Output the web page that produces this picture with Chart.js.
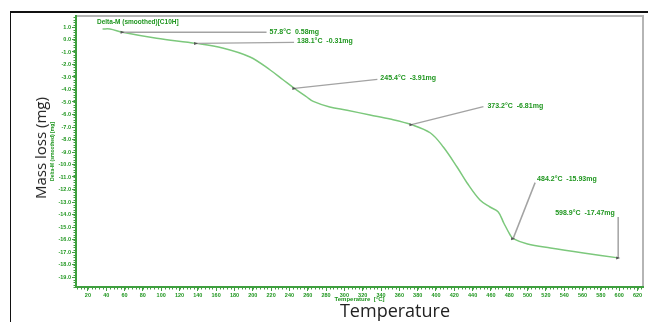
<!DOCTYPE html>
<html>
<head>
<meta charset="utf-8">
<script src="https://cdn.jsdelivr.net/npm/chart.js@4.4.0/dist/chart.umd.min.js"></script>
<style>
  html, body { margin: 0; padding: 0; background: #fff; }
  #wrap { position: relative; width: 648px; height: 322px; overflow: hidden; }
  #frame { position: absolute; left: 10px; top: 11px; width: 660px; height: 330px; border-left: 1.5px solid #111; border-top: 2px solid #111; }
  #chart { position: absolute; left: 0; top: 0; }
  .big { position: absolute; font-family: "Open Sans", sans-serif; color: #222; white-space: nowrap; }
  #ylab { left: 40px; top: 148px; transform: translate(-50%, -50%) rotate(-90deg); font-size: 15px; }
  #xlab { left: 395px; top: 310px; transform: translate(-50%, -50%); font-size: 18px; }
</style>
</head>
<body>
<div id="wrap">
  <div id="frame"></div>
  <canvas id="chart" width="648" height="322"></canvas>
  <div class="big" id="ylab">Mass loss (mg)</div>
  <div class="big" id="xlab">Temperature</div>
</div>
<script>
// ---- data ----
const temps = [36, 44, 57.8, 95, 138.1, 167, 197, 219, 233, 245.4, 259, 266, 284, 303, 328, 350, 373.2,
  394, 408, 423, 434, 448, 459, 468, 474, 481, 484.2, 500, 525, 561, 598.9];
const mass = [0.84, 0.84, 0.58, 0.1, -0.31, -0.68, -1.4, -2.44, -3.22, -3.91, -4.6, -4.95, -5.4, -5.66, -6.04, -6.36, -6.81,
  -7.48, -8.6, -10.2, -11.48, -12.84, -13.4, -13.8, -14.68, -15.64, -15.93, -16.36, -16.68, -17.08, -17.47];

// marked points
const markTemps = [57.8, 138.1, 245.4, 373.2, 484.2, 598.9];
const markMass = [0.58, -0.31, -3.91, -6.81, -15.93, -17.47];

// tick labels
const xTicks = [20, 40, 60, 80, 100, 120, 140, 160, 180, 200, 220, 240, 260, 280, 300, 320, 340, 360, 380,
  400, 420, 440, 460, 480, 500, 520, 540, 560, 580, 600, 620];
const yTicks = [1, 0, -1, -2, -3, -4, -5, -6, -7, -8, -9, -10, -11, -12, -13, -14, -15, -16, -17, -18, -19];

// ---- styles ----
const AXIS = "#3f9f3f";
const TEXT = "#1f961f";
const CURVE = "#7cc87c";
const LEADER = "#a3a3a3";
const SMALL = "'Liberation Sans', Arial, sans-serif";

// leader line end and label position, in pixels from the marker
const leaderEnd = [[144, 0], [98, -1], [83, -9], [72, -18], [22, -56], [0, -41]];
const labelPos = [[147, 0], [101, -2], [86, -10], [76, -19], [24, -60], [-63, -45]];

const decor = {
  id: "decor",
  beforeDraw(chart) {
    const { ctx, chartArea: a } = chart;
    ctx.save();
    ctx.strokeStyle = "#b5b5b5";
    ctx.lineWidth = 2;
    ctx.beginPath();
    ctx.moveTo(a.left, a.top);
    ctx.lineTo(a.right, a.top);
    ctx.lineTo(a.right, a.bottom);
    ctx.stroke();
    ctx.restore();
  },
  afterDraw(chart) {
    const { ctx, chartArea: a, scales } = chart;
    const xs = scales.x, ys = scales.y;
    ctx.save();

    // minor ticks
    ctx.strokeStyle = AXIS;
    ctx.lineWidth = 1;
    ctx.beginPath();
    for (let t = 8; t <= 624; t += 4) {
      const px = Math.round(xs.getPixelForValue(t)) + 0.5;
      ctx.moveTo(px, a.bottom);
      ctx.lineTo(px, a.bottom + 2.5);
    }
    for (let v = -19.8; v <= 1.8; v += 0.2) {
      const py = Math.round(ys.getPixelForValue(v)) + 0.5;
      ctx.moveTo(a.left, py);
      ctx.lineTo(a.left - 2.5, py);
    }
    ctx.stroke();

    // annotations
    ctx.font = "bold 7px " + SMALL;
    ctx.textBaseline = "middle";
    ctx.textAlign = "left";
    markTemps.forEach((t, i) => {
      const px = xs.getPixelForValue(t);
      const py = ys.getPixelForValue(markMass[i]);
      ctx.strokeStyle = LEADER;
      ctx.lineWidth = 1.5;
      ctx.beginPath();
      ctx.moveTo(px, py);
      ctx.lineTo(px + leaderEnd[i][0], py + leaderEnd[i][1]);
      ctx.stroke();
      ctx.fillStyle = "#555";
      ctx.beginPath();
      ctx.moveTo(px - 2, py - 1.5);
      ctx.lineTo(px + 2, py);
      ctx.lineTo(px - 2, py + 1.5);
      ctx.closePath();
      ctx.fill();
      ctx.fillStyle = TEXT;
      ctx.fillText(t.toFixed(1) + "°C  " + markMass[i].toFixed(2) + "mg", px + labelPos[i][0], py + labelPos[i][1]);
    });

    // small green titles
    ctx.fillStyle = TEXT;
    ctx.font = "bold 6.5px " + SMALL;
    ctx.fillText("Delta-M (smoothed)[C10H]", a.left + 21, a.top + 6);
    ctx.font = "bold 6px " + SMALL;
    ctx.textAlign = "center";
    ctx.fillText("Temperature  [°C]", (a.left + a.right) / 2, a.bottom + 12);
    ctx.translate(53, (a.top + a.bottom) / 2);
    ctx.rotate(-Math.PI / 2);
    ctx.font = "bold 5px " + SMALL;
    ctx.fillText("Delta-M (smoothed) [mg]", 0, 0);
    ctx.restore();
  }
};

const ctx = document.getElementById("chart").getContext("2d");
new Chart(ctx, {
  type: "line",
  data: {
    datasets: [{
      data: temps.map((t, i) => ({ x: t, y: mass[i] })),
      borderColor: CURVE,
      borderWidth: 1.5,
      pointRadius: 0,
      tension: 0.35,
      fill: false,
    }],
  },
  options: {
    responsive: false,
    animation: false,
    layout: { padding: { left: 44, top: 16, right: 5, bottom: 0 } },
    plugins: { legend: { display: false }, tooltip: { enabled: false } },
    scales: {
      x: {
        type: "linear",
        min: 7,
        max: 626,
        afterBuildTicks: (s) => { s.ticks = xTicks.map((v) => ({ value: v })); },
        afterFit: (s) => { s.height = 35; },
        border: { color: AXIS, width: 2 },
        grid: { drawOnChartArea: false, color: AXIS, tickLength: 4 },
        ticks: { color: TEXT, font: { size: 5.5, weight: "bold", family: SMALL }, padding: 1, maxRotation: 0, autoSkip: false },
      },
      y: {
        type: "linear",
        min: -19.8,
        max: 1.88,
        afterBuildTicks: (s) => { s.ticks = yTicks.map((v) => ({ value: v })); },
        afterFit: (s) => { s.width = 32; },
        border: { color: AXIS, width: 2 },
        grid: { drawOnChartArea: false, color: AXIS, tickLength: 4 },
        ticks: {
          color: TEXT,
          font: { size: 5.5, weight: "bold", family: SMALL },
          padding: 1,
          autoSkip: false,
          callback: (v) => v.toFixed(1),
        },
      },
    },
  },
  plugins: [decor],
});
</script>
</body>
</html>
